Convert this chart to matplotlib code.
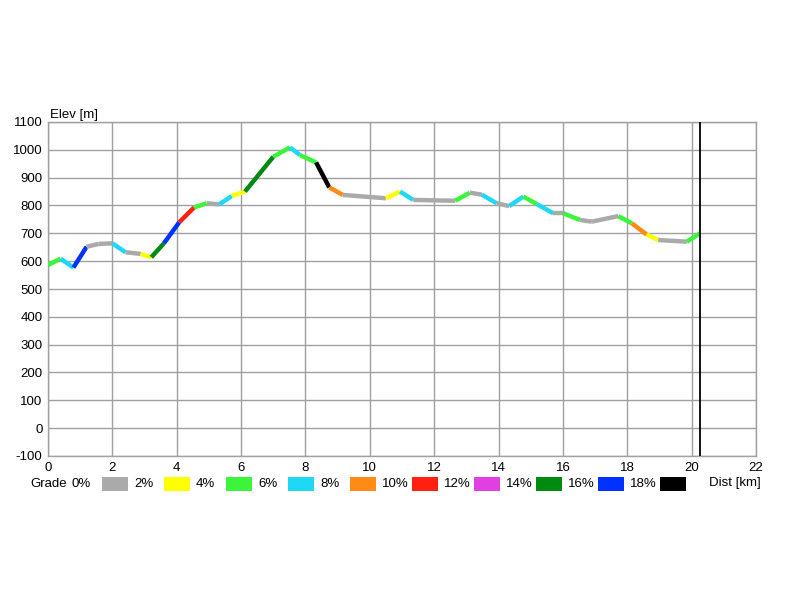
import matplotlib
matplotlib.use("Agg")
import matplotlib.pyplot as plt
from matplotlib.patches import Rectangle

plt.rcParams['font.family'] = ['Liberation Sans', 'DejaVu Sans']
plt.rcParams['axes.unicode_minus'] = False

# distance (km) and elevation (m) of route vertices
dist = [0, 0.39, 0.79, 1.2, 1.58, 2.0, 2.41, 2.88, 3.21, 3.6, 4.08, 4.54, 4.93,
        5.32, 5.71, 6.12, 7.0, 7.52, 7.83, 8.33, 8.74, 9.16, 10.5, 10.94, 11.35,
        12.65, 13.11, 13.48, 13.94, 14.33, 14.77, 15.19, 15.7, 16.01, 16.53,
        16.9, 17.72, 18.14, 18.6, 18.96, 19.85, 20.26]
elev = [586, 609, 577, 652, 662, 664, 632, 626, 614, 664, 740, 793, 808,
        804, 834, 850, 975, 1009, 981, 955, 865, 838, 826, 850, 820,
        817, 846, 839, 808, 798, 832, 805, 772, 772, 748,
        742, 762, 736, 696, 676, 670, 700]
# grade class of each segment (index into grade_colors)
seg_class = [2, 3, 8, 0, 0, 3, 0, 1, 7, 8, 5, 2, 0, 3, 1, 7, 2, 3, 2, 9, 4,
             0, 1, 3, 0, 2, 0, 3, 0, 3, 2, 3, 0, 2, 0, 0, 2, 4, 1, 0, 2]

grade_labels = ["0%", "2%", "4%", "6%", "8%", "10%", "12%", "14%", "16%", "18%"]
grade_colors = ["#aaaaaa", "#ffff00", "#3cf43c", "#1ed8f5", "#ff8a14",
                "#ff2010", "#e040e0", "#008a10", "#0032ff", "#000000"]

x_ticks = list(range(0, 23, 2))
y_ticks = list(range(-100, 1101, 100))
route_end = dist[-1]

fig = plt.figure(figsize=(8, 6), dpi=100)
ax = fig.add_axes([48/800, 1-456/600, (756-48)/800, (456-122)/600])

for i, c in enumerate(seg_class):
    ax.plot(dist[i:i+2], elev[i:i+2], color=grade_colors[c], lw=3.2,
            solid_capstyle='butt', solid_joinstyle='round', zorder=3)

ax.axvline(route_end, color='black', lw=1.3, zorder=4)

ax.set_xlim(0, 22)
ax.set_ylim(-100, 1100)
ax.set_xticks(x_ticks)
ax.set_yticks(y_ticks)
ax.grid(True, color='#a0a0a0', lw=1)
ax.set_axisbelow(True)
for s in ax.spines.values():
    s.set_color('#a0a0a0')
    s.set_linewidth(1)
ax.tick_params(length=0, labelsize=9.5, pad=4)

fig.text(50/800, 1-115/600, "Elev [m]", fontsize=9.5, va='center', ha='left')
fig.text(709/800, 1-483/600, "Dist [km]", fontsize=9.5, va='center', ha='left')

# legend
y_c = 1 - 484/600
fig.text(30/800, y_c, "Grade", fontsize=9.5, va='center', ha='left')
x0 = 72
step = 62
for i, lab in enumerate(grade_labels):
    fig.text((x0 + i*step)/800, y_c, lab, fontsize=9.5, va='center', ha='left')
    px = 102 + i*step
    fig.add_artist(Rectangle((px/800, 1-491/600), 26/800, 14/600,
                             transform=fig.transFigure,
                             facecolor=grade_colors[i], edgecolor='none'))

fig.savefig("out.png", dpi=100, facecolor='white')
